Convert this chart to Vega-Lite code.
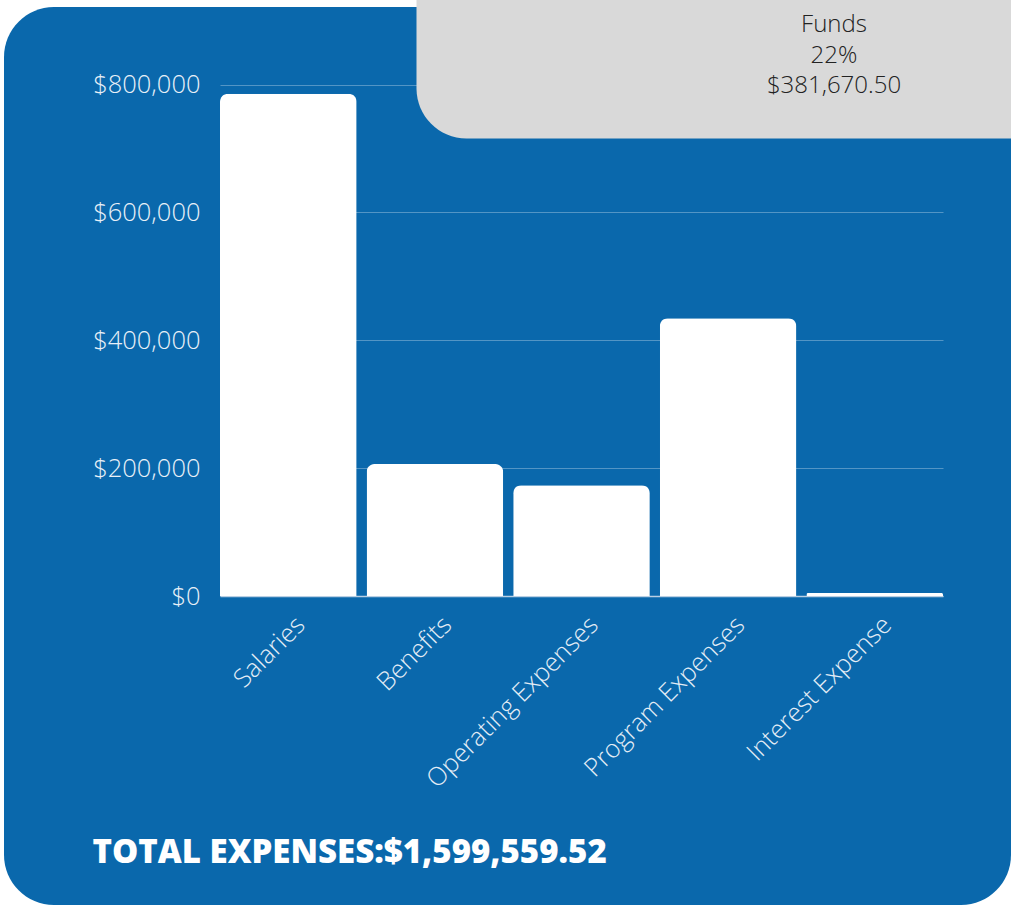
{
  "$schema": "https://vega.github.io/schema/vega-lite/v6.json",
  "width": 1007,
  "height": 898,
  "autosize": {"type": "none"},
  "padding": {"left": 4, "top": 7, "right": 0, "bottom": 0},
  "background": "white",
  "view": {"fill": "#0A68AC", "stroke": null, "cornerRadius": 50},
  "config": {
    "view": {"fill": "#0A68AC", "stroke": null, "cornerRadius": 50},
    "font": "Open Sans"
  },
  "layer": [
    {
      "data": {
        "values": [
          {"category": "Salaries", "amount": 785500},
          {"category": "Benefits", "amount": 206500},
          {"category": "Operating Expenses", "amount": 173200},
          {"category": "Program Expenses", "amount": 434400},
          {"category": "Interest Expense", "amount": 4700}
        ]
      },
      "mark": {"type": "bar", "color": "white", "cornerRadiusTopLeft": 8, "cornerRadiusTopRight": 8},
      "encoding": {
        "x": {
          "field": "category",
          "type": "nominal",
          "sort": null,
          "scale": {"type": "band", "range": [216, 939], "paddingInner": 0.068, "paddingOuter": 0},
          "axis": {
            "orient": "bottom",
            "offset": -309,
            "domain": true,
            "domainColor": "#b9cfe4",
            "domainWidth": 1.5,
            "ticks": false,
            "grid": false,
            "labelAngle": -45,
            "labelFont": "Open Sans",
            "labelFontWeight": 300,
            "labelFontSize": 25.5,
            "labelColor": "#e4edf6",
            "labelPadding": 16,
            "labelOffset": 4,
            "labelLimit": 400,
            "title": "TOTAL EXPENSES:$1,599,559.52",
            "titleFont": "Open Sans",
            "titleFontWeight": 800,
            "titleFontSize": 33,
            "titleColor": "white",
            "titleAnchor": "start",
            "titleAlign": "left",
            "titleBaseline": "alphabetic",
            "titleX": 88,
            "titleY": 266
          }
        },
        "y": {
          "field": "amount",
          "type": "quantitative",
          "scale": {"domain": [0, 800000], "nice": false, "range": [589, 77.6]},
          "axis": {
            "orient": "left",
            "offset": -216,
            "domain": false,
            "ticks": false,
            "tickSize": 0,
            "values": [0, 200000, 400000, 600000, 800000],
            "format": "$,.0f",
            "labelFont": "Open Sans",
            "labelFontWeight": 300,
            "labelFontSize": 25.5,
            "labelColor": "#e8f0f8",
            "labelPadding": 20,
            "grid": true,
            "gridColor": "#ffffff",
            "gridOpacity": 0.3,
            "gridWidth": 1,
            "title": null
          }
        }
      }
    },
    {
      "data": {
        "values": [
          {"item": "Funds"},
          {"item": "22%"},
          {"item": "$381,670.50"}
        ]
      },
      "mark": {"type": "point", "opacity": 0},
      "encoding": {
        "color": {
          "field": "item",
          "type": "nominal",
          "scale": {"domain": ["Funds", "22%", "$381,670.50"], "range": ["#222222", "#222222", "#222222"]},
          "legend": {
            "title": " ",
            "orient": "none",
            "legendX": 412,
            "legendY": -104,
            "direction": "vertical",
            "fillColor": "#D9D9D9",
            "strokeColor": "transparent",
            "cornerRadius": 50,
            "padding": 40,
            "titleFontSize": 10,
            "titleOpacity": 0,
            "titlePadding": 60,
            "labelFont": "Open Sans",
            "labelFontSize": 24,
            "labelFontWeight": 300,
            "labelColor": "#222222",
            "labelAlign": "center",
            "labelBaseline": "middle",
            "labelOffset": -246,
            "labelLimit": 400,
            "symbolOpacity": 0,
            "symbolSize": 4,
            "symbolStrokeWidth": 0,
            "symbolOffset": 600,
            "rowPadding": 6.5
          }
        }
      }
    }
  ]
}
